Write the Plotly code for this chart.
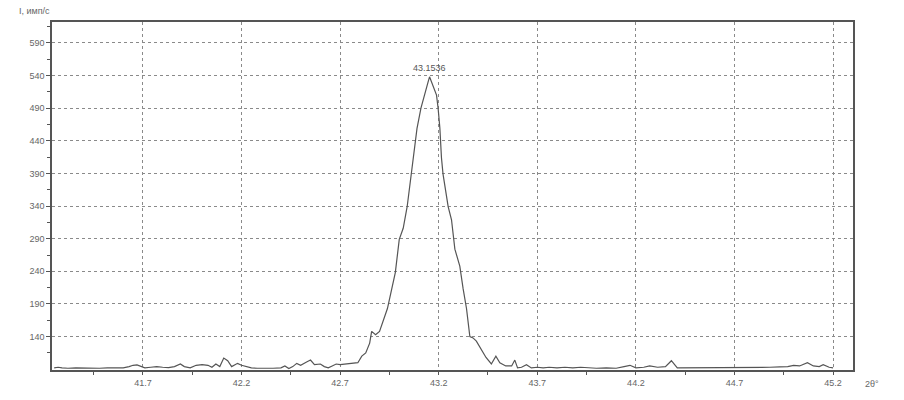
import plotly.graph_objects as go

# 2theta (degrees) and intensity (counts/s)
two_theta = [41.25, 41.27, 41.29, 41.32, 41.36, 41.40, 41.44, 41.48, 41.52, 41.56,
             41.60, 41.63, 41.65, 41.67, 41.69, 41.71, 41.74, 41.77, 41.80, 41.83,
             41.86, 41.89, 41.91, 41.94, 41.97, 42.00, 42.03, 42.05, 42.07, 42.09,
             42.11, 42.13, 42.15, 42.18, 42.20, 42.22, 42.25, 42.28, 42.32, 42.36,
             42.40, 42.42, 42.44, 42.46, 42.48, 42.50, 42.53, 42.55, 42.57, 42.60,
             42.62, 42.64, 42.66, 42.68, 42.70, 42.73, 42.76, 42.79, 42.81, 42.83,
             42.85, 42.86, 42.88, 42.90, 42.94, 42.98, 43.00, 43.02, 43.04, 43.06,
             43.07, 43.09, 43.11, 43.13, 43.146, 43.1536, 43.163, 43.171, 43.189, 43.197,
             43.206, 43.214, 43.222, 43.248, 43.265, 43.282, 43.307, 43.324, 43.341, 43.358,
             43.374, 43.391, 43.417, 43.44, 43.467, 43.49, 43.51, 43.54, 43.57, 43.586,
             43.60, 43.62, 43.645, 43.67, 43.70, 43.73, 43.76, 43.80, 43.84, 43.88,
             43.92, 43.95, 44.00, 44.05, 44.10, 44.14, 44.17, 44.20, 44.24, 44.27,
             44.31, 44.35, 44.38, 44.41, 44.45, 44.49, 44.53, 44.58, 44.63, 44.68,
             44.73, 44.78, 44.83, 44.88, 44.93, 44.97, 45.00, 45.03, 45.07, 45.10,
             45.13, 45.15, 45.18, 45.20]
intensity = [92, 93, 92, 91.5, 92, 91.5, 92, 91.5, 92, 91.5,
             92, 94, 96, 96.5, 94, 92, 93, 94, 93, 92.5,
             94, 98, 94, 92, 96, 97, 96, 93, 98, 94,
             107, 103, 94, 99, 96, 94, 92, 91.5, 91, 91.5,
             92, 95, 91, 94, 99, 96, 101, 104, 97, 98,
             94, 92, 95, 98, 97, 98, 98, 100, 110, 115,
             130, 148, 143, 148, 183, 238, 289, 306, 339, 384,
             414, 459, 490, 510, 530, 538, 530, 525, 510, 490,
             459, 414, 389, 339, 319, 274, 248, 213, 183, 140,
             138, 133, 120, 108, 98, 110, 100, 95, 95, 104,
             92, 93, 97, 92, 93, 92, 93, 92, 93, 92,
             93, 92, 91.5, 92, 91.5, 94, 96, 92, 93, 95,
             93, 94, 103, 92, 92, 92.5, 92, 92.5, 92, 92.5,
             92, 92, 92.5, 93, 93.5, 94, 96, 95, 100, 95,
             94, 97, 93, 92]

peak_pos = 43.1536
peak_int = 538
peak_label = "43.1536"

x_ticks = [41.7, 42.2, 42.7, 43.2, 43.7, 44.2, 44.7, 45.2]
x_tick_text = ["41.7", "42.2", "42.7", "43.2", "43.7", "44.2", "44.7", "45.2"]
y_ticks = [140, 190, 240, 290, 340, 390, 440, 490, 540, 590]
y_tick_text = ["140", "190", "240", "290", "340", "390", "440", "490", "540", "590"]

x_label = "2θ°"
y_label = "I, имп/с"

FONT = "Liberation Sans, Arial, sans-serif"

fig = go.Figure()
fig.add_trace(go.Scatter(x=two_theta, y=intensity, mode="lines",
                         line=dict(color="#555555", width=1.2),
                         hoverinfo="x+y", showlegend=False))

fig.add_annotation(x=peak_pos, y=peak_int, text=peak_label, showarrow=False,
                   yshift=9, font=dict(size=9, color="#555555", family=FONT))
fig.add_annotation(xref="paper", yref="paper", x=-0.044, y=1.012, xanchor="left",
                   yanchor="bottom", text=y_label, showarrow=False,
                   font=dict(size=9, color="#666666", family=FONT))
fig.add_annotation(xref="paper", yref="paper", x=1.012, y=-0.02, xanchor="left",
                   yanchor="top", text=x_label, showarrow=False,
                   font=dict(size=9, color="#666666", family=FONT))

fig.update_layout(
    width=904, height=400,
    margin=dict(l=52, r=51, t=22, b=24),
    paper_bgcolor="white", plot_bgcolor="white",
    font=dict(family=FONT, size=9, color="#666666"),
    xaxis=dict(range=[41.239, 45.301], tickmode="array", tickvals=x_ticks,
               ticktext=x_tick_text, showgrid=True, gridcolor="#8a8a8a",
               griddash="dot", gridwidth=1, zeroline=False,
               showline=True, linecolor="#555555", linewidth=1.5, mirror=True,
               ticks="outside", ticklen=3, tickcolor="#555555",
               minor=dict(tickmode="linear", tick0=41.45, dtick=0.5, ticks="outside",
                          ticklen=3, tickcolor="#555555", showgrid=False)),
    yaxis=dict(range=[88.8, 622], tickmode="array", tickvals=y_ticks,
               ticktext=y_tick_text, showgrid=True, gridcolor="#8a8a8a",
               griddash="dot", gridwidth=1, zeroline=False,
               showline=True, linecolor="#555555", linewidth=1.5, mirror=True,
               ticks="outside", ticklen=4, tickcolor="#555555",
               minor=dict(tickmode="linear", tick0=115, dtick=50, ticks="outside",
                          ticklen=3, tickcolor="#555555", showgrid=False)),
)

fig.write_html("out.html",
               config={"displayModeBar": False},
               post_script="document.body.style.margin='0px';"
                           "document.body.style.overflow='hidden';")
